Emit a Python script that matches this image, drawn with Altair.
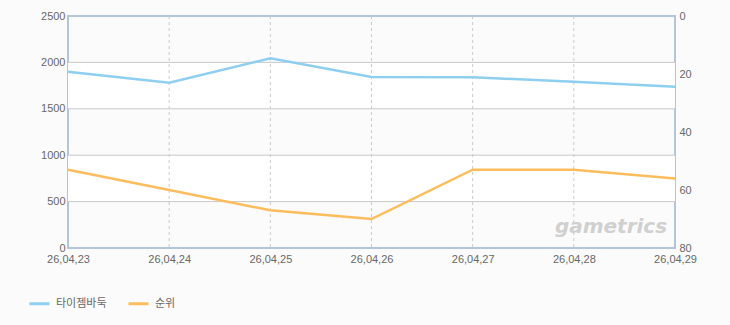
import altair as alt
import pandas as pd

dates = ["26,04,23", "26,04,24", "26,04,25", "26,04,26", "26,04,27", "26,04,28", "26,04,29"]
viewers = [1900, 1781, 2044, 1843, 1839, 1792, 1738]
rank = [53, 60, 67, 70, 53, 53, 56]
band_lo = [500, 1500]
band_hi = [1000, 2000]
left_ticks = [0, 500, 1000, 1500, 2000, 2500]
right_ticks = [0, 20, 40, 60, 80]
series_names = ["타이젬바둑", "순위"]
series_colors = ["#8ecff0", "#fdbd5c"]

df = pd.DataFrame({"date": dates, "viewers": viewers, "rank": rank})
df1 = df.assign(series=series_names[0])
df2 = df.assign(series=series_names[1])
bands = pd.DataFrame({"lo": band_lo, "hi": band_hi})
hgrid = pd.DataFrame({"v": left_ticks[1:-1]})
vgrid = pd.DataFrame({"date": dates[1:-1]})

W, H = 607, 232
FONT = "Liberation Sans"
LBL = "#686868"
GRID = "#c9c9c9"

x_scale = alt.Scale(type="point", padding=0, domain=dates)
x_axis = alt.Axis(labelAngle=0, ticks=False, domain=False, grid=False,
                  labelFont=FONT, labelFontSize=11, labelColor=LBL,
                  labelPadding=5)
x_enc = alt.X("date:N", sort=dates, title=None, scale=x_scale, axis=x_axis)

left_axis = alt.Axis(values=left_ticks, ticks=False, format="d",
                     domain=False, grid=False,
                     labelFont=FONT, labelFontSize=11, labelColor=LBL,
                     labelPadding=3, title=None)
left_scale = alt.Scale(domain=[0, 2500], nice=False, zero=True)

color_scale = alt.Scale(domain=series_names, range=series_colors)
color_enc = alt.Color("series:N", scale=color_scale, legend=alt.Legend(title=None))

band_layer = alt.Chart(bands).mark_rect(color="#ffffff").encode(
    x=alt.value(0), x2=alt.value("width"),
    y=alt.Y("lo:Q", scale=left_scale, axis=left_axis),
    y2="hi:Q",
)

hgrid_layer = alt.Chart(hgrid).mark_rule(color=GRID, strokeWidth=1).encode(
    y=alt.Y("v:Q", scale=left_scale, axis=left_axis),
)

vgrid_layer = alt.Chart(vgrid).mark_rule(color=GRID, strokeWidth=1,
                                         strokeDash=[3, 3]).encode(
    x=alt.X("date:N", sort=dates, scale=x_scale, title=None, axis=x_axis),
)

blue = alt.Chart(df1).mark_line(strokeWidth=2.5).encode(
    x=x_enc,
    y=alt.Y("viewers:Q", scale=left_scale, axis=left_axis),
    color=color_enc,
)

left = alt.layer(band_layer, hgrid_layer, vgrid_layer, blue)

orange = alt.Chart(df2).mark_line(strokeWidth=2.5).encode(
    x=x_enc,
    y=alt.Y("rank:Q", scale=alt.Scale(domain=[0, 80], reverse=True, nice=False),
            axis=alt.Axis(orient="right", values=right_ticks, ticks=False,
                          domain=False, grid=False, labelFont=FONT, labelFontSize=11,
                          labelColor=LBL, labelPadding=4, title=None)),
    color=color_enc,
)

watermark = alt.Chart(pd.DataFrame({"t": ["gametrics"]})).mark_text(
    font="DejaVu Sans", fontSize=20, fontStyle="italic", fontWeight="bold",
    color="#d0d0d0", align="center", baseline="middle"
).encode(text="t:N", x=alt.value(543), y=alt.value(211))

frame = alt.layer(left, orange, watermark).resolve_scale(y="independent")

chart = frame.properties(
    width=W, height=H,
    background="#fbfbfb",
    padding={"left": 68, "top": 16, "right": 55, "bottom": 77},
    autosize=alt.AutoSizeParams(type="none"),
).configure_view(
    fill="#fbfbfb", stroke="#b3c5d8", strokeWidth=2
).configure_legend(
    orient="none", legendX=-40, legendY=276, direction="horizontal",
    symbolType="stroke", symbolStrokeWidth=3, symbolSize=400,
    labelFont="Noto Sans CJK KR", labelFontSize=11, labelColor=LBL,
    labelOffset=5, columnPadding=15,
)

chart.save("out.html", embed_options={"renderer": "svg", "actions": False})
